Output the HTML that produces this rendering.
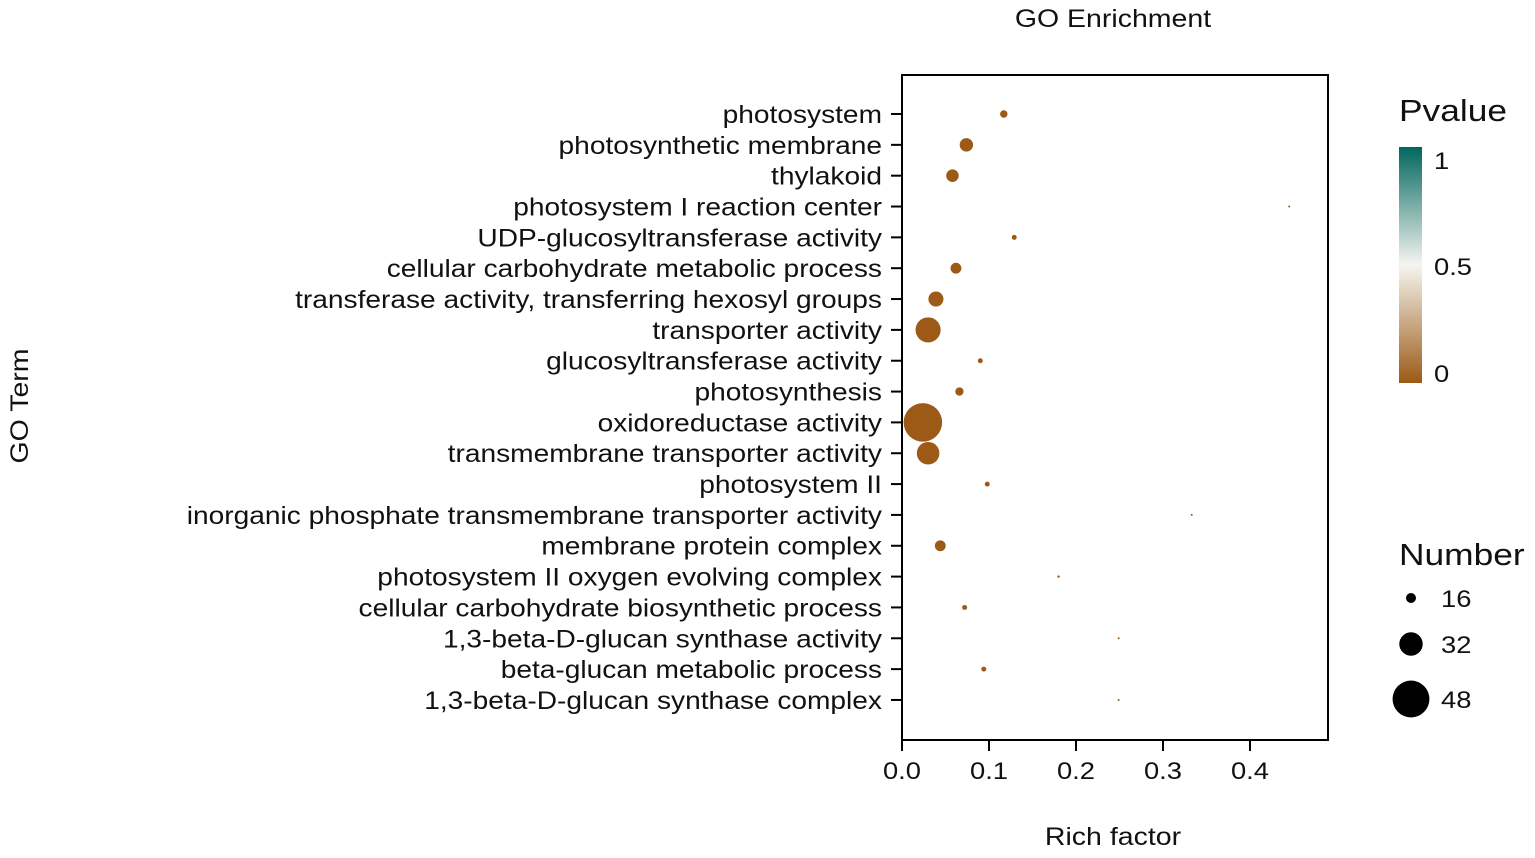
<!DOCTYPE html>
<html><head><meta charset="utf-8"><style>
body{margin:0;background:#fff;}
svg text{font-family:"Liberation Sans",Arial,sans-serif;fill:#111;}
</style></head><body>
<svg width="1535" height="853" viewBox="0 0 1535 853">
<defs><linearGradient id="pg" x1="0" y1="1" x2="0" y2="0">
<stop offset="0" stop-color="#9c5a16"/><stop offset="0.5" stop-color="#f5f5f0"/><stop offset="1" stop-color="#01665e"/></linearGradient></defs>
<text x="1113" y="27" font-size="25" text-anchor="middle">GO Enrichment</text>
<text x="1113" y="845" font-size="25" text-anchor="middle">Rich factor</text>
<text transform="translate(28,406) rotate(-90) scale(1.14,1)" font-size="25" text-anchor="middle">GO Term</text>
<rect x="902" y="75" width="426" height="665" fill="none" stroke="#000" stroke-width="2"/>
<g id="ax"></g><g id="pts"></g>
<text x="1399" y="121" font-size="31">Pvalue</text>
<rect x="1399" y="147" width="23" height="236" fill="url(#pg)"/>
<text x="1434" y="169" font-size="24">1</text>
<text x="1434" y="275" font-size="24">0.5</text>
<text x="1434" y="382" font-size="24">0</text>
<text x="1399" y="565" font-size="31">Number</text>
<g id="sz"></g>
</svg>
<script>
const terms=["photosystem","photosynthetic membrane","thylakoid","photosystem I reaction center","UDP-glucosyltransferase activity","cellular carbohydrate metabolic process","transferase activity, transferring hexosyl groups","transporter activity","glucosyltransferase activity","photosynthesis","oxidoreductase activity","transmembrane transporter activity","photosystem II","inorganic phosphate transmembrane transporter activity","membrane protein complex","photosystem II oxygen evolving complex","cellular carbohydrate biosynthetic process","1,3-beta-D-glucan synthase activity","beta-glucan metabolic process","1,3-beta-D-glucan synthase complex"];
const richFactor=[0.117,0.074,0.058,0.445,0.129,0.062,0.039,0.030,0.090,0.066,0.024,0.030,0.098,0.333,0.044,0.180,0.072,0.249,0.094,0.249];
const counts=[13,20,19,5,10,17,22,34,10,14,50,31,10,5,17,7,10,4,10,4];
const pvalues=[0,0,0,0,0,0,0,0,0,0,0,0,0,0,0,0,0,0,0,0];
const xTicks=[0,0.1,0.2,0.3,0.4];
const xTickLabels=["0.0","0.1","0.2","0.3","0.4"];
const sizeLegend=[16,32,48];
const NS="http://www.w3.org/2000/svg";
const xs=v=>902+v*870;
const ys=i=>114+i*30.84;
const rs=n=>Math.max(1,5+(n-16)*0.42);
function col(p){const a=[156,90,22],m=[245,245,240],b=[1,102,94];let c0,c1,t;if(p<0.5){c0=a;c1=m;t=p/0.5}else{c0=m;c1=b;t=(p-0.5)/0.5}return "rgb("+c0.map((v,k)=>Math.round(v+(c1[k]-v)*t)).join(",")+")";}
function mk(tag,at,par){const e=document.createElementNS(NS,tag);for(const k in at)e.setAttribute(k,at[k]);document.getElementById(par).appendChild(e);return e;}
terms.forEach((t,i)=>{
 let l=mk("line",{x1:891,x2:902,y1:ys(i),y2:ys(i),stroke:"#000","stroke-width":2},"ax");
 
 
 let tx=mk("text",{x:882,y:ys(i)+9,"font-size":25,"text-anchor":"end","data-sx":1.125},"ax");tx.textContent=t;
 
 
 let c=mk("circle",{cx:xs(richFactor[i]),cy:ys(i),r:rs(counts[i]),fill:col(pvalues[i])},"pts");
 
 
});
xTicks.forEach((v,i)=>{
 let l=mk("line",{x1:xs(v),x2:xs(v),y1:740,y2:751,stroke:"#000","stroke-width":2},"ax");
 
 
 let tx=mk("text",{x:xs(v),y:779,"font-size":24,"text-anchor":"middle"},"ax");tx.textContent=xTickLabels[i];
 
 
});
const ly=[598,644,699];
sizeLegend.forEach((n,i)=>{
 let c=mk("circle",{cx:1411,cy:ly[i],r:rs(n),fill:"#000"},"sz");
 
 
 let tx=mk("text",{x:1441,y:ly[i]+9,"font-size":24},"sz");tx.textContent=n;
 
 
});
document.querySelectorAll("text[x]").forEach(t=>{const x=+t.getAttribute("x");const s=t.getAttribute("data-sx")||1.14;t.setAttribute("transform","translate("+x+",0) scale("+s+",1) translate("+(-x)+",0)");});
</script>
</body></html>
